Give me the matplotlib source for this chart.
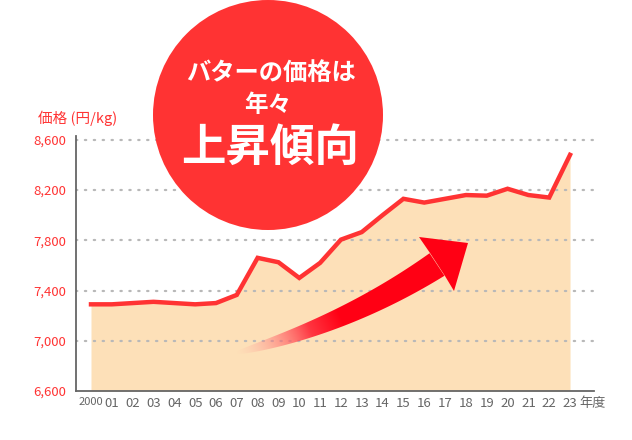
import matplotlib.pyplot as plt
import numpy as np
from matplotlib.patches import Circle, Polygon

plt.rcParams['font.family'] = ['Noto Sans CJK JP', 'DejaVu Sans']

# data
years = ['2000', '01', '02', '03', '04', '05', '06', '07', '08', '09', '10', '11',
         '12', '13', '14', '15', '16', '17', '18', '19', '20', '21', '22', '23']
prices = [7290, 7290, 7300, 7310, 7300, 7290, 7300, 7365, 7660, 7625, 7500, 7620,
          7805, 7865, 8000, 8130, 8100, 8130, 8160, 8155, 8210, 8160, 8140, 8480]
yticks = [6600, 7000, 7400, 7800, 8200, 8600]
grid_levels = [7000, 7400, 7800, 8200, 8600]

RED = '#FF3333'
FILL = '#FDE0B8'
W, H = 632, 440

fig = plt.figure(figsize=(W / 100, H / 100), dpi=100)
ax = fig.add_axes([76 / W, (H - 391) / H, (594 - 76) / W, (391 - 136) / H])

x = np.arange(len(years))
ax.fill_between(x, 6600, prices, color=FILL, linewidth=0, zorder=1)
for lvl in grid_levels:
    ax.axhline(lvl, color='#B8B8B8', linewidth=1.6, linestyle=(0, (0.6, 3.4)),
               dash_capstyle='round', zorder=2)
ax.plot(x, prices, color=RED, linewidth=3.2, solid_joinstyle='miter', zorder=3)

ax.set_xlim(-0.72, 24.15)
ax.set_ylim(6600, 8630)
ax.set_yticks(yticks)
ax.set_yticklabels([f'{v:,}' for v in yticks], color=RED, fontsize=9.5)
ax.set_xticks(x)
ax.set_xticklabels(years, color='#666666', fontsize=9.5)
ax.get_xticklabels()[0].set_fontsize(8)
ax.tick_params(axis='y', length=0, pad=7)
ax.tick_params(axis='x', length=0, pad=4)
for s in ['top', 'right']:
    ax.spines[s].set_visible(False)
for s in ['left', 'bottom']:
    ax.spines[s].set_color('#666666')
    ax.spines[s].set_linewidth(1.3)

# overlay in pixel coordinates for decorations
ov = fig.add_axes([0, 0, 1, 1], zorder=5)
ov.set_xlim(0, W)
ov.set_ylim(H, 0)
ov.axis('off')

ov.text(38, 118, '価格 (円/kg)', color=RED, fontsize=10.5, ha='left', va='center')
ov.text(579, 404, '年度', color='#666666', fontsize=9.5, ha='left', va='center')

# gradient arrow: shaft outline along a curve, filled with a clipped gradient image
p0 = np.array([236.0, 353.0])
p2 = np.array([437.0, 264.5])
d = np.array([0.83, -0.55])
p1 = p2 - 110 * d
s = np.linspace(0, 1, 120)
pts = ((1 - s) ** 2)[:, None] * p0 + (2 * (1 - s) * s)[:, None] * p1 + (s ** 2)[:, None] * p2
tan = (2 * (1 - s))[:, None] * (p1 - p0) + (2 * s)[:, None] * (p2 - p1)
tan /= np.linalg.norm(tan, axis=1)[:, None]
nrm = np.column_stack([-tan[:, 1], tan[:, 0]])
wid = 0.5 + 13.0 * s ** 0.55
up = pts + nrm * wid[:, None]
lo = pts - nrm * wid[:, None]
outline = np.vstack([up, lo[::-1]])
shaft = Polygon(outline, closed=True, facecolor='none', edgecolor='none')
ov.add_patch(shaft)

x0, x1 = outline[:, 0].min() - 2, outline[:, 0].max() + 2
y0, y1 = outline[:, 1].min() - 2, outline[:, 1].max() + 2
gx, gy = np.meshgrid(np.linspace(x0, x1, 300), np.linspace(y0, y1, 150))
axis_vec = (p2 - p0) / np.linalg.norm(p2 - p0)
proj = ((gx - p0[0]) * axis_vec[0] + (gy - p0[1]) * axis_vec[1]) / np.linalg.norm(p2 - p0)
proj = np.clip(proj, 0, 1)
t = np.clip(proj / 0.5, 0, 1)
img = np.zeros(gx.shape + (4,))
img[..., 0] = 1.0
img[..., 1] = 0.7 * (1 - t)
img[..., 2] = 0.66 + (0.08 - 0.66) * t
img[..., 3] = np.clip(proj / 0.35, 0, 1)
im = ov.imshow(img, extent=(x0, x1, y1, y0), origin='upper', interpolation='bilinear',
               zorder=3, aspect='auto')
im.set_clip_path(shaft)
ov.set_xlim(0, W)
ov.set_ylim(H, 0)

head = [(468, 243), (419, 237), (430, 253), (445, 276), (454, 291)]
ov.add_patch(Polygon(head, closed=True, facecolor='#FF0014', edgecolor='none', zorder=4))

# red circle with message
ov.add_patch(Circle((268, 115), 115, facecolor=RED, edgecolor='none', zorder=5))
ov.text(271, 73, 'バターの価格は', color='white', fontsize=17.5, fontweight='bold',
        ha='center', va='center', zorder=6)
ov.text(268, 105, '年々', color='white', fontsize=17, fontweight='bold',
        ha='center', va='center', zorder=6)
ov.text(270, 148, '上昇傾向', color='white', fontsize=32, fontweight='bold',
        ha='center', va='center', zorder=6)

fig.savefig('out.png', dpi=100)
